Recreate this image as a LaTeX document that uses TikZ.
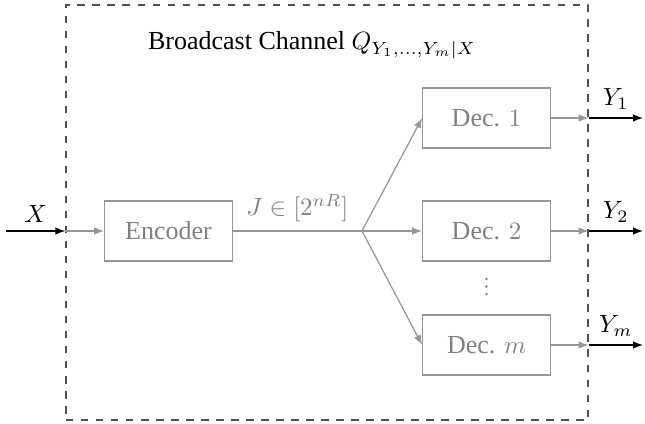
\documentclass[tikz,border=0pt]{standalone}
\usepackage{fontspec}
\setmainfont{Liberation Serif}
\usetikzlibrary{arrows.meta}
\definecolor{boxgray}{RGB}{150,150,150}
\definecolor{txtgray}{RGB}{128,128,128}
\definecolor{dashgray}{RGB}{80,80,80}
\begin{document}
\begin{tikzpicture}[x=0.4pt,y=-0.4pt,
  every node/.style={font=\fontsize{10.4pt}{12.5pt}\selectfont},
  blk/.style={draw=boxgray, line width=0.5pt, minimum width=51pt, minimum height=24pt, text=txtgray, inner sep=0pt},
  chan/.style={draw=dashgray, dashed, line width=0.5pt, minimum width=208.8pt, minimum height=166pt, inner sep=0pt},
  garrow/.style={draw=boxgray, line width=0.5pt, -{Latex[length=4pt,width=3pt]}},
  gline/.style={draw=boxgray, line width=0.5pt},
  barrow/.style={draw=black, line width=0.5pt, -{Latex[length=4pt,width=3pt]}},
  glabel/.style={text=txtgray},
  vdot/.style={circle, fill=txtgray, inner sep=0pt, minimum size=1.1pt}]
\useasboundingbox (0,0) rectangle (645,424);
\node[chan] (ch) at (327,212.5) {};
\node (title) at (312,45) {Broadcast Channel $Q_{Y_1,\dots,Y_m|X}$};
\node[blk] (enc) at (168.5,231) {Encoder};
\node[blk] (d1) at (486.5,118) {Dec. $1$};
\node[blk] (d2) at (486.5,231) {Dec. $2$};
\node[blk] (dm) at (486.5,345) {Dec. $m$};
\node[vdot] (dot1) at (486.5,279) {};
\node[vdot] (dot2) at (486.5,286.5) {};
\node[vdot] (dot3) at (486.5,294) {};
\coordinate (xin) at (6,231);
\coordinate (br) at (362,231);
\coordinate (y1) at (643,118);
\coordinate (y2) at (643,231);
\coordinate (ym) at (643,345);
% input
\draw[barrow] (xin) -- (xin -| ch.west) node[midway, above, text=black] {$X$};
\draw[garrow] (xin -| ch.west) -- (enc.west);
% encoder to branch
\draw[gline] (enc.east) -- (br) node[midway, above, glabel] {$J\in[2^{nR}]$};
\draw[garrow] (br) -- (d1.west);
\draw[garrow] (br) -- (d2.west);
\draw[garrow] (br) -- (dm.west);
% outputs
\draw[garrow] (d1.east) -- (d1.east -| ch.east);
\draw[garrow] (d2.east) -- (d2.east -| ch.east);
\draw[garrow] (dm.east) -- (dm.east -| ch.east);
\draw[barrow] (d1.east -| ch.east) -- (y1) node[midway, above] {$Y_1$};
\draw[barrow] (d2.east -| ch.east) -- (y2) node[midway, above] {$Y_2$};
\draw[barrow] (dm.east -| ch.east) -- (ym) node[midway, above] {$Y_m$};
\end{tikzpicture}
\end{document}
